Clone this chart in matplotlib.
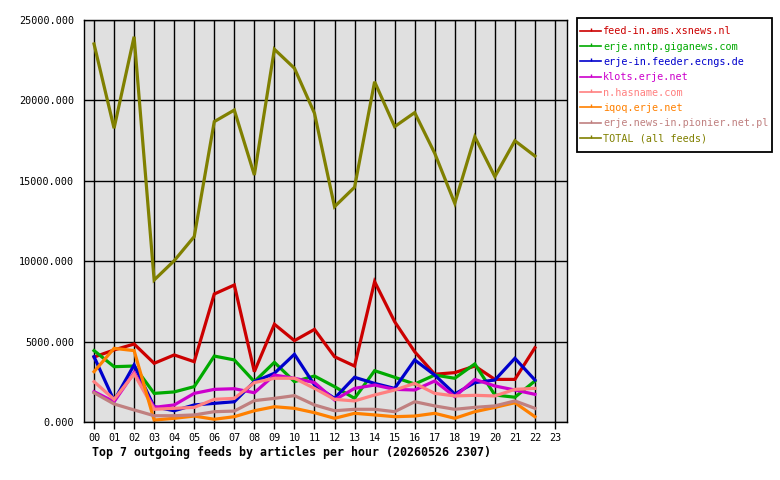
import matplotlib
matplotlib.use("Agg")
import matplotlib.pyplot as plt
from matplotlib.lines import Line2D
from matplotlib.patches import Rectangle

# hours 00..22 (axis runs to 23)
hours = list(range(23))
tick_labels = [f"{h:02d}" for h in range(24)]

xsnews = [4040, 4480, 4850, 3650, 4170, 3750, 7960, 8520, 3130, 6080, 5060, 5760,
          4060, 3480, 8730, 6240, 4370, 2970, 3070, 3480, 2650, 2650, 4620]
giganews = [4440, 3440, 3480, 1780, 1870, 2200, 4100, 3860, 2510, 3710, 2510, 2860,
            2200, 1470, 3190, 2780, 2360, 2920, 2720, 3610, 1680, 1540, 2550]
ecngs = [4060, 1330, 3550, 950, 700, 1060, 1160, 1260, 2510, 3030, 4210, 2300,
         1470, 2780, 2400, 2090, 3860, 2920, 1740, 2450, 2610, 3960, 2610]
klots = [1890, 1260, 3070, 910, 1060, 1780, 2030, 2070, 1820, 2920, 2720, 2450,
         1370, 2090, 2300, 2030, 1990, 2550, 1580, 2650, 2240, 1990, 1720]
hasname = [2510, 1410, 2990, 790, 850, 910, 1410, 1470, 2450, 2720, 2720, 2090,
           1410, 1310, 1680, 1990, 2400, 1780, 1620, 1660, 1620, 2030, 2090]
iqoq = [3130, 4580, 4440, 120, 230, 370, 170, 330, 700, 950, 850, 580,
        230, 540, 440, 330, 370, 540, 230, 640, 910, 1200, 330]
pionier = [1820, 1120, 750, 390, 390, 440, 640, 680, 1330, 1470, 1640, 1060,
           700, 790, 790, 640, 1260, 1000, 790, 910, 1000, 1310, 850]
total = [23510, 18270, 23960, 8830, 10030, 11530, 18680, 19400, 15360, 23180, 22000, 19200,
         13390, 14600, 21160, 18370, 19240, 16710, 13600, 17740, 15260, 17490, 16540]

series = [
    ("feed-in.ams.xsnews.nl", xsnews, "#cc0000"),
    ("erje.nntp.giganews.com", giganews, "#00aa00"),
    ("erje-in.feeder.ecngs.de", ecngs, "#0000cc"),
    ("klots.erje.net", klots, "#cc00cc"),
    ("n.hasname.com", hasname, "#ff8080"),
    ("iqoq.erje.net", iqoq, "#ff8000"),
    ("erje.news-in.pionier.net.pl", pionier, "#c08080"),
    ("TOTAL (all feeds)", total, "#808000"),
]

plt.rcParams['font.family'] = ['DejaVu Sans Mono']

fig = plt.figure(figsize=(7.8, 4.8), dpi=100)
ax = fig.add_axes([84 / 780, 1 - 422 / 480, (567 - 84) / 780, (422 - 20) / 480])
ax.set_facecolor("#e0e0e0")

for name, vals, col in series:
    ax.plot(hours, vals, color=col, linewidth=2.3, solid_joinstyle="miter")

ax.set_xlim(-0.5, 23.6)
ax.set_ylim(0, 25000)
ax.set_xticks(range(24))
ax.set_xticklabels(tick_labels, fontsize=7.3)
ax.set_yticks([0, 5000, 10000, 15000, 20000, 25000])
ax.set_yticklabels([f"{v:.3f}" for v in [0, 5000, 10000, 15000, 20000, 25000]], fontsize=7.3)
ax.tick_params(axis="x", direction="out", length=5, width=1, pad=3)
ax.tick_params(axis="y", length=0, pad=7)
ax.grid(True, color="black", linewidth=1)
ax.set_axisbelow(True)
for sp in ax.spines.values():
    sp.set_linewidth(1)
    sp.set_color("black")

# legend box drawn separately so its padding matches the original
fig.patches.append(Rectangle((577 / 780, 1 - 152 / 480), 195 / 780, 134 / 480,
                             transform=fig.transFigure, facecolor="white",
                             edgecolor="black", linewidth=1.3, zorder=1))

handles = [Line2D([0], [0], color=col, linewidth=1.2, marker=2, markersize=2)
           for _, _, col in series]
leg = fig.legend(handles, [s[0] for s in series], loc="upper left",
                 bbox_to_anchor=(580 / 780, 1 - 26.5 / 480), frameon=False,
                 fontsize=7.3, handlelength=2.1, handletextpad=0.2,
                 labelspacing=0.52, borderpad=0, borderaxespad=0)
leg.set_zorder(2)
for txt, (_, _, col) in zip(leg.get_texts(), series):
    txt.set_color(col)

fig.text(92 / 780, 1 - 452 / 480, "Top 7 outgoing feeds by articles per hour (20260526 2307)",
         fontsize=8.4, fontweight="bold", va="center", ha="left")

fig.savefig("out.png", dpi=100)
